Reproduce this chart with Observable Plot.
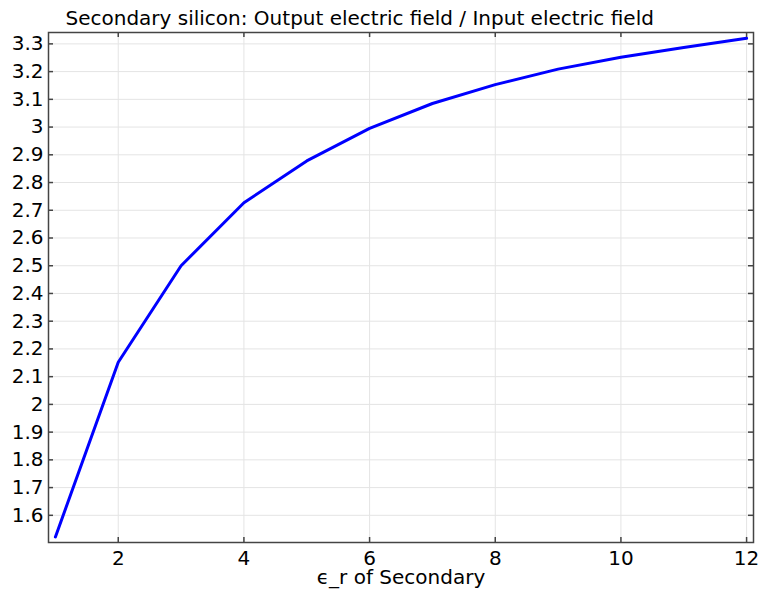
<!DOCTYPE html>
<html>
<head>
<meta charset="utf-8">
<script src="https://cdn.jsdelivr.net/npm/d3@7"></script>
<script src="https://cdn.jsdelivr.net/npm/@observablehq/plot@0.6"></script>
<style>
  body { margin: 0; background: #fff; }
  #chart { width: 760px; height: 594px; }
</style>
</head>
<body>
<div id="chart"></div>
<script>
// Relative permittivity of the secondary layer (sweep values)
const epsR = [1, 2, 3, 4, 5, 6, 7, 8, 9, 10, 11, 12];
// Output electric field / input electric field
const ratio = [1.522, 2.152, 2.500, 2.727, 2.878, 2.995, 3.085, 3.153, 3.209, 3.252, 3.287, 3.320];

const xTicks = [2, 4, 6, 8, 10, 12];
const yTicks = [1.6, 1.7, 1.8, 1.9, 2.0, 2.1, 2.2, 2.3, 2.4, 2.5, 2.6, 2.7, 2.8, 2.9, 3.0, 3.1, 3.2, 3.3];

const titleText = "Secondary silicon: Output electric field / Input electric field";
const xLabel = "\u03F5_r of Secondary";

const data = epsR.map((x, i) => ({x, y: ratio[i]}));

const W = 760, H = 594;
const mL = 48, mR = 7, mT = 32, mB = 52;
const innerW = W - mL - mR, innerH = H - mT - mB;
const tickLen = 5;
const frameColor = "#444";
const gridColor = "#e4e4e4";
const fs = 20;

const chart = Plot.plot({
  width: W,
  height: H,
  marginLeft: mL,
  marginRight: mR,
  marginTop: mT,
  marginBottom: mB,
  style: {fontFamily: "DejaVu Sans", fontSize: fs + "px", color: "#000", background: "#fff"},
  x: {domain: [0.89, 12.11]},
  y: {domain: [1.502, 3.341]},
  marks: [
    Plot.gridX(xTicks, {stroke: gridColor, strokeOpacity: 1, strokeWidth: 1}),
    Plot.gridY(yTicks, {stroke: gridColor, strokeOpacity: 1, strokeWidth: 1}),
    Plot.line(data, {x: "x", y: "y", stroke: "#0000ff", strokeWidth: 3, strokeLinejoin: "round"}),
    // inward ticks on all four sides of the frame
    Plot.tickX(xTicks, {x: d => d, insetBottom: innerH - tickLen, stroke: frameColor, strokeWidth: 1.5}),
    Plot.tickX(xTicks, {x: d => d, insetTop: innerH - tickLen, stroke: frameColor, strokeWidth: 1.5}),
    Plot.tickY(yTicks, {y: d => d, insetRight: innerW - tickLen, stroke: frameColor, strokeWidth: 1.5}),
    Plot.tickY(yTicks, {y: d => d, insetLeft: innerW - tickLen, stroke: frameColor, strokeWidth: 1.5}),
    Plot.axisX(xTicks, {tickSize: 0, tickPadding: 8, label: null, fontSize: fs, tickFormat: d3.format("~g")}),
    Plot.axisY(yTicks, {tickSize: 0, tickPadding: 5, label: null, fontSize: fs, tickFormat: d3.format("~g")}),
    Plot.frame({stroke: frameColor, strokeWidth: 1.5}),
    Plot.text([xLabel], {text: d => d, frameAnchor: "bottom", dy: 41, fontSize: fs}),
    Plot.text([titleText], {text: d => d, frameAnchor: "top-left", textAnchor: "start", dx: 17, dy: -22, fontSize: fs})
  ]
});

document.getElementById("chart").appendChild(chart);
</script>
</body>
</html>
